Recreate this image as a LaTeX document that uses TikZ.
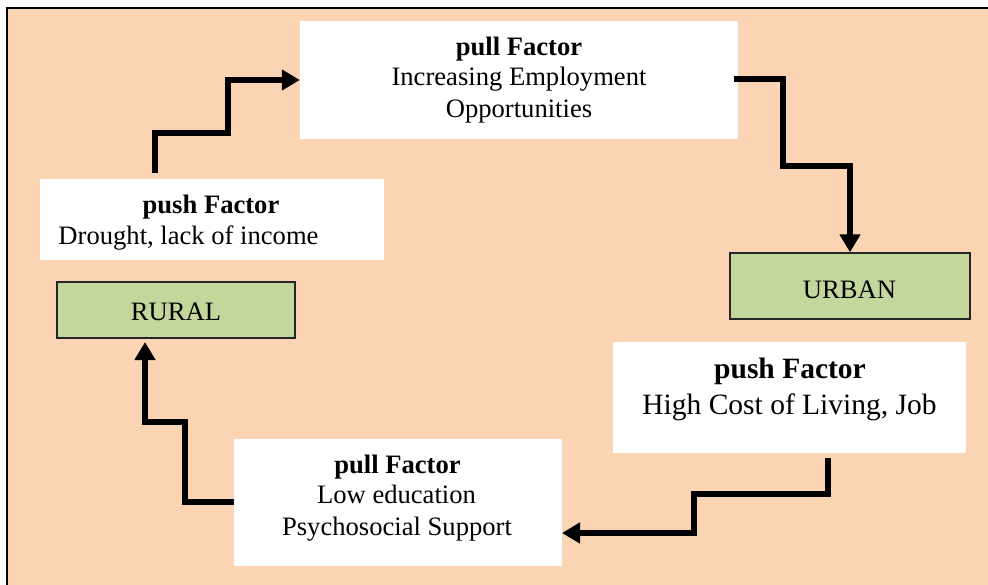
\documentclass[tikz,border=0pt]{standalone}
\usepackage{fontspec}
\setmainfont{Liberation Serif}
\usetikzlibrary{arrows.meta}
\definecolor{peach}{HTML}{FBD4B4}
\definecolor{olivegreen}{HTML}{C3D69B}
\tikzset{
  whitebox/.style={fill=white, draw=none, inner sep=0pt},
  greenbox/.style={fill=olivegreen, draw=black!85, line width=1.4pt, inner sep=0pt},
  txt/.style={anchor=base, inner sep=0pt, font=\fontsize{26.6}{31}\selectfont},
  bigtxt/.style={anchor=base, inner sep=0pt, font=\fontsize{29.5}{35}\selectfont},
  flow/.style={line width=5.5pt, line join=miter, -{Triangle[length=18pt,width=20pt]}}
}
\begin{document}
\begin{tikzpicture}[x=1pt,y=-1pt]
\useasboundingbox (0,0) rectangle (988,584);
\clip (0,0) rectangle (988,584);
\fill[white] (0,0) rectangle (988,584);
\draw[fill=peach, line width=1.6pt] (7,8) rectangle (1000,600);

% boxes
\node[whitebox, minimum width=438pt, minimum height=118pt] (pullT) at (519,80) {};
\node[whitebox, minimum width=344pt, minimum height=81pt] (pushL) at (212,219.5) {};
\node[greenbox, minimum width=238pt, minimum height=56pt] (rural) at (176,310) {};
\node[greenbox, minimum width=240pt, minimum height=66pt] (urban) at (850,286) {};
\node[whitebox, minimum width=353pt, minimum height=111pt] (pushR) at (789.5,397.5) {};
\node[whitebox, minimum width=328pt, minimum height=127pt] (pullB) at (398,502.5) {};

% texts
\node[txt] (t1a) at (519,55) {\textbf{pull Factor}};
\node[txt] (t1b) at (519,85) {Increasing Employment};
\node[txt] (t1c) at (519,117) {Opportunities};
\node[txt] (t2a) at (211,213) {\textbf{push Factor}};
\node[txt] (t2b) at (188.5,244) {Drought, lack of income};
\node[txt] (t3) at (176,320) {RURAL};
\node[txt] (t4) at (849.5,298) {URBAN};
\node[bigtxt] (t5a) at (790,378) {\textbf{push Factor}};
\node[bigtxt] (t5b) at (789.5,414) {High Cost of Living, Job};
\node[txt] (t6a) at (397.5,473) {\textbf{pull Factor}};
\node[txt] (t6b) at (396.5,503) {Low education};
\node[txt] (t6c) at (397,535) {Psychosocial Support};

% connectors
\coordinate (s1) at (155,173);
\coordinate (b1) at (228,133);
\draw[flow] (s1) |- (b1) |- (pullT.west);

\coordinate (s2) at (734,79);
\coordinate (b2) at (783,166);
\draw[flow] (s2) -| (b2) -| (urban.north);

\coordinate (s3) at (828,458);
\coordinate (b3) at (694,494);
\coordinate (e3) at (562,533);
\draw[flow] (s3) |- (b3) |- (e3);

\coordinate (s4) at (234,502);
\coordinate (b4) at (185,422);
\coordinate (e4) at (145,342);
\draw[flow] (s4) -| (b4) -| (e4);
\end{tikzpicture}
\end{document}
